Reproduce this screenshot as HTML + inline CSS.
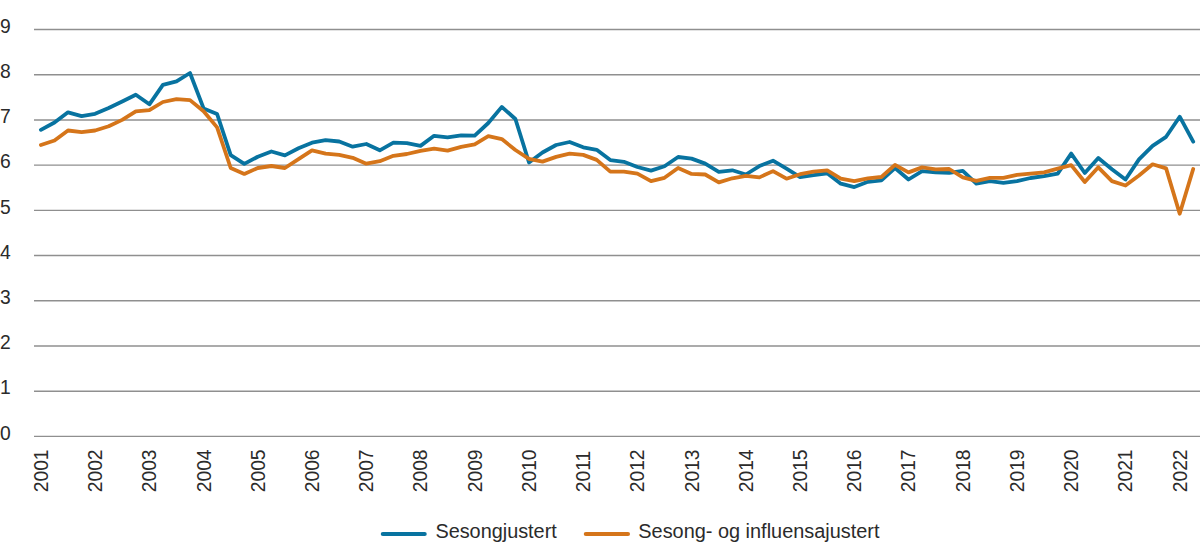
<!DOCTYPE html>
<html><head><meta charset="utf-8"><title>Chart</title><style>html,body{margin:0;padding:0;background:#fff;}svg{display:block;}</style></head><body>
<svg width="1200" height="558" viewBox="0 0 1200 558">
<rect width="1200" height="558" fill="#fff"/>
<g stroke="#8f8f8f" stroke-width="1.4">
<line x1="34" y1="436.40" x2="1200" y2="436.40"/>
<line x1="34" y1="391.19" x2="1200" y2="391.19"/>
<line x1="34" y1="345.98" x2="1200" y2="345.98"/>
<line x1="34" y1="300.77" x2="1200" y2="300.77"/>
<line x1="34" y1="255.56" x2="1200" y2="255.56"/>
<line x1="34" y1="210.35" x2="1200" y2="210.35"/>
<line x1="34" y1="165.14" x2="1200" y2="165.14"/>
<line x1="34" y1="119.93" x2="1200" y2="119.93"/>
<line x1="34" y1="74.72" x2="1200" y2="74.72"/>
<line x1="34" y1="29.51" x2="1200" y2="29.51"/>
</g>
<g font-family="&quot;Liberation Sans&quot;, Arial, sans-serif" font-size="19.3" fill="#2b2b2b">
<text x="0.1" y="439.6">0</text>
<text x="0.1" y="394.4">1</text>
<text x="0.1" y="349.2">2</text>
<text x="0.1" y="304.0">3</text>
<text x="0.1" y="258.8">4</text>
<text x="0.1" y="213.5">5</text>
<text x="0.1" y="168.3">6</text>
<text x="0.1" y="123.1">7</text>
<text x="0.1" y="77.9">8</text>
<text x="0.1" y="32.7">9</text>
</g>
<g font-family="&quot;Liberation Sans&quot;, Arial, sans-serif" font-size="19.3" fill="#2b2b2b">
<text transform="translate(47.8,492.3) rotate(-90)">2001</text>
<text transform="translate(102.0,492.3) rotate(-90)">2002</text>
<text transform="translate(156.3,492.3) rotate(-90)">2003</text>
<text transform="translate(210.5,492.3) rotate(-90)">2004</text>
<text transform="translate(264.7,492.3) rotate(-90)">2005</text>
<text transform="translate(318.9,492.3) rotate(-90)">2006</text>
<text transform="translate(373.2,492.3) rotate(-90)">2007</text>
<text transform="translate(427.4,492.3) rotate(-90)">2008</text>
<text transform="translate(481.6,492.3) rotate(-90)">2009</text>
<text transform="translate(535.9,492.3) rotate(-90)">2010</text>
<text transform="translate(590.1,492.3) rotate(-90)">2011</text>
<text transform="translate(644.3,492.3) rotate(-90)">2012</text>
<text transform="translate(698.5,492.3) rotate(-90)">2013</text>
<text transform="translate(752.8,492.3) rotate(-90)">2014</text>
<text transform="translate(807.0,492.3) rotate(-90)">2015</text>
<text transform="translate(861.2,492.3) rotate(-90)">2016</text>
<text transform="translate(915.4,492.3) rotate(-90)">2017</text>
<text transform="translate(969.7,492.3) rotate(-90)">2018</text>
<text transform="translate(1023.9,492.3) rotate(-90)">2019</text>
<text transform="translate(1078.1,492.3) rotate(-90)">2020</text>
<text transform="translate(1132.4,492.3) rotate(-90)">2021</text>
<text transform="translate(1186.6,492.3) rotate(-90)">2022</text>
</g>
<polyline fill="none" stroke="#0873a0" stroke-width="3.8" stroke-linejoin="round" stroke-linecap="round" points="40.9,129.8 54.5,122.5 68.0,112.3 81.6,116.1 95.1,113.8 108.7,108.0 122.2,101.5 135.8,94.7 149.4,104.3 162.9,84.8 176.5,81.4 190.0,73.0 203.6,108.4 217.1,114.0 230.7,155.1 244.3,163.9 257.8,156.7 271.4,151.5 284.9,155.4 298.5,148.3 312.0,142.7 325.6,140.2 339.2,141.5 352.7,146.7 366.3,144.0 379.8,150.3 393.4,142.7 406.9,143.2 420.5,145.9 434.1,135.8 447.6,137.4 461.2,135.3 474.7,135.6 488.3,123.0 501.8,106.9 515.4,119.0 529.0,162.5 542.5,152.5 556.1,145.0 569.6,142.0 583.2,147.3 596.7,149.8 610.3,160.1 623.9,161.8 637.4,167.0 651.0,170.6 664.5,166.2 678.1,157.0 691.6,158.6 705.2,163.6 718.8,171.8 732.3,170.3 745.9,174.5 759.4,166.1 773.0,160.7 786.5,168.6 800.1,177.1 813.6,175.1 827.2,173.3 840.8,183.7 854.3,187.1 867.9,181.8 881.4,180.3 895.0,168.0 908.5,179.5 922.1,171.1 935.7,172.4 949.2,172.8 962.8,170.9 976.3,183.7 989.9,181.2 1003.4,182.8 1017.0,181.2 1030.6,178.0 1044.1,176.2 1057.7,173.6 1071.2,153.6 1084.8,173.0 1098.3,158.0 1111.9,169.2 1125.5,179.5 1139.0,159.4 1152.6,145.8 1166.1,136.8 1179.7,116.7 1193.2,141.7"/>
<polyline fill="none" stroke="#d5751a" stroke-width="3.8" stroke-linejoin="round" stroke-linecap="round" points="40.9,145.0 54.5,140.5 68.0,130.5 81.6,132.1 95.1,130.5 108.7,126.3 122.2,119.9 135.8,111.4 149.4,110.2 162.9,102.0 176.5,99.2 190.0,100.1 203.6,111.3 217.1,127.4 230.7,168.0 244.3,173.9 257.8,168.0 271.4,166.0 284.9,168.0 298.5,159.1 312.0,150.3 325.6,153.7 339.2,154.9 352.7,157.8 366.3,163.7 379.8,161.2 393.4,155.8 406.9,154.0 420.5,150.9 434.1,148.6 447.6,150.7 461.2,146.8 474.7,144.3 488.3,136.2 501.8,139.1 515.4,150.0 529.0,158.8 542.5,161.6 556.1,156.9 569.6,153.7 583.2,154.9 596.7,159.9 610.3,171.6 623.9,171.6 637.4,173.7 651.0,181.2 664.5,177.8 678.1,168.0 691.6,173.9 705.2,174.5 718.8,182.4 732.3,178.3 745.9,175.8 759.4,177.4 773.0,171.1 786.5,178.7 800.1,174.2 813.6,171.6 827.2,170.3 840.8,178.7 854.3,181.2 867.9,178.3 881.4,177.0 895.0,164.9 908.5,172.4 922.1,167.4 935.7,169.4 949.2,169.0 962.8,177.4 976.3,180.8 989.9,177.8 1003.4,177.8 1017.0,174.9 1030.6,173.6 1044.1,172.4 1057.7,168.7 1071.2,165.1 1084.8,182.0 1098.3,167.3 1111.9,181.1 1125.5,185.5 1139.0,175.5 1152.6,164.3 1166.1,168.4 1179.7,213.7 1193.2,169.0"/>
<line x1="382.8" y1="534" x2="424.7" y2="534" stroke="#0873a0" stroke-width="4.1" stroke-linecap="round"/>
<line x1="585.8" y1="534" x2="628" y2="534" stroke="#d5751a" stroke-width="4.1" stroke-linecap="round"/>
<g font-family="&quot;Liberation Sans&quot;, Arial, sans-serif" font-size="19.6" fill="#2b2b2b">
<text x="435.4" y="538" textLength="121.4" lengthAdjust="spacingAndGlyphs">Sesongjustert</text>
<text x="638.3" y="538" textLength="241.2" lengthAdjust="spacingAndGlyphs">Sesong- og influensajustert</text>
</g>
</svg></body></html>
